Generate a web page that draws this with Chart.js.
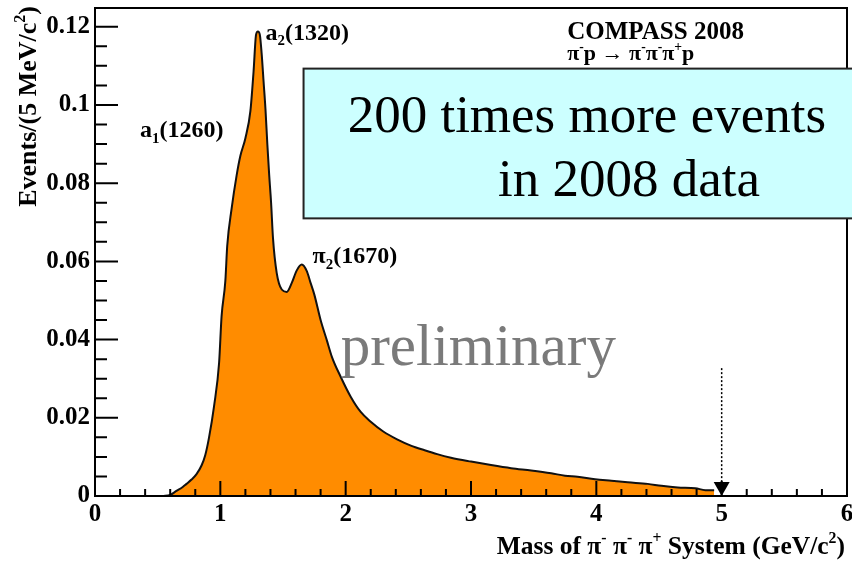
<!DOCTYPE html>
<html lang="en">
<head>
    <meta charset="UTF-8">
    <title>COMPASS 2008 - 3pi mass spectrum</title>
    <style>
        body {
            margin: 0;
            padding: 0;
            background: #fff;
        }
        #wrap {
            width: 852px;
            height: 563px;
        }
    </style>
    <script src="https://cdn.jsdelivr.net/npm/chart.js"></script>
</head>
<body>
    <div id="wrap">
        <canvas id="massChart" width="852" height="563"></canvas>
    </div>
    <script>
        // invariant mass of the 3pi system (GeV/c^2) and normalised events per 5 MeV bin
        var massGeV = [
            0.54, 0.60, 0.65, 0.70, 0.73, 0.77, 0.81, 0.85, 0.88, 0.91,
            0.95, 0.99, 1.01, 1.04, 1.055, 1.09, 1.13, 1.16, 1.20, 1.24,
            1.265, 1.285, 1.30, 1.315, 1.33, 1.345, 1.36, 1.375, 1.39, 1.405,
            1.42, 1.45, 1.49, 1.53, 1.57, 1.61, 1.65, 1.69, 1.72, 1.75,
            1.80, 1.85, 1.89, 1.96, 2.04, 2.12, 2.20, 2.30, 2.41, 2.52,
            2.63, 2.73, 2.84, 3.00, 3.16, 3.32, 3.48, 3.64, 3.75, 3.85,
            3.99, 4.12, 4.25, 4.41, 4.52, 4.65, 4.79, 4.87, 4.94
        ];
        var eventsPerBin = [
            0.0000, 0.0003, 0.0013, 0.0023, 0.0031, 0.0042, 0.0056, 0.0078, 0.0105, 0.0150,
            0.0230, 0.0340, 0.0460, 0.0550, 0.0640, 0.0735, 0.0820, 0.0870, 0.0915, 0.0985,
            0.1085, 0.1180, 0.1188, 0.1180, 0.1130, 0.1060, 0.0990, 0.0900, 0.0820, 0.0750,
            0.0660, 0.0570, 0.0528, 0.0522, 0.0545, 0.0577, 0.0592, 0.0575, 0.0545, 0.0515,
            0.0450, 0.0398, 0.0356, 0.0305, 0.0254, 0.0215, 0.0190, 0.0165, 0.0145, 0.0129,
            0.0117, 0.0107, 0.0098, 0.0088, 0.0079, 0.0071, 0.0065, 0.0058, 0.0052, 0.0049,
            0.0043, 0.0039, 0.0035, 0.0031, 0.0026, 0.0022, 0.0020, 0.0015, 0.0015
        ];

        var xTickValues = [0, 1, 2, 3, 4, 5, 6];
        var xTickLabels = ['0', '1', '2', '3', '4', '5', '6'];
        var yTickValues = [0, 0.02, 0.04, 0.06, 0.08, 0.1, 0.12];
        var yTickLabels = ['0', '0.02', '0.04', '0.06', '0.08', '0.1', '0.12'];

        var SERIF = '"Liberation Serif", "Times New Roman", serif';

        // text with sub/superscripts, y is the baseline
        function drawRich(ctx, parts, x, y, size, weight, align) {
            var total = 0;
            parts.forEach(function (p) {
                var s = (p.sub || p.sup) ? size * 0.62 : size;
                ctx.font = weight + ' ' + s + 'px ' + SERIF;
                p.w = ctx.measureText(p.t).width;
                total += p.w;
            });
            var cx = x;
            if (align === 'right') cx = x - total;
            if (align === 'center') cx = x - total / 2;
            ctx.textAlign = 'left';
            ctx.textBaseline = 'alphabetic';
            parts.forEach(function (p) {
                var s = (p.sub || p.sup) ? size * 0.62 : size;
                var dy = p.sub ? size * 0.22 : (p.sup ? -size * 0.42 : 0);
                ctx.font = weight + ' ' + s + 'px ' + SERIF;
                ctx.fillText(p.t, cx, y + dy);
                cx += p.w;
            });
        }

        var frameAndLabels = {
            id: 'frameAndLabels',
            afterDatasetsDraw: function (chart) {
                var ctx = chart.ctx;
                var area = chart.chartArea;
                var xs = chart.scales.x;
                var ys = chart.scales.y;
                var px = function (v) { return xs.getPixelForValue(v); };
                var py = function (v) { return ys.getPixelForValue(v); };

                ctx.save();
                ctx.strokeStyle = '#000';
                ctx.fillStyle = '#000';

                // frame
                ctx.lineWidth = 2;
                ctx.beginPath();
                ctx.moveTo(area.left, area.top);
                ctx.lineTo(area.right, area.top);
                ctx.lineTo(area.right, area.bottom);
                ctx.lineTo(area.left, area.bottom);
                ctx.lineTo(area.left, area.top);
                ctx.stroke();

                // inward ticks, ROOT style
                ctx.beginPath();
                for (var i = 0; i <= 30; i++) {
                    var xv = i * 0.2;
                    var len = (i % 5 === 0) ? 15 : 7;
                    ctx.moveTo(px(xv), area.bottom);
                    ctx.lineTo(px(xv), area.bottom - len);
                }
                for (var j = 0; j <= 24; j++) {
                    var yv = j * 0.005;
                    var ylen = (j % 4 === 0) ? 23 : 12;
                    ctx.moveTo(area.left, py(yv));
                    ctx.lineTo(area.left + ylen, py(yv));
                }
                ctx.stroke();

                // axis titles
                drawRich(ctx, [{t: 'Mass of π'}, {t: '-', sup: true}, {t: ' π'}, {t: '-', sup: true},
                    {t: ' π'}, {t: '+', sup: true}, {t: ' System (GeV/c'}, {t: '2', sup: true}, {t: ')'}],
                    845, 554, 25.5, 'bold', 'right');
                ctx.save();
                ctx.translate(36, 6);
                ctx.rotate(-Math.PI / 2);
                drawRich(ctx, [{t: 'Events/(5 MeV/c'}, {t: '2', sup: true}, {t: ')'}], 0, 0, 26, 'bold', 'right');
                ctx.restore();

                // resonance labels
                drawRich(ctx, [{t: 'a'}, {t: '2', sub: true}, {t: '(1320)'}], px(1.36), py(0.1167), 24, 'bold', 'left');
                drawRich(ctx, [{t: 'a'}, {t: '1', sub: true}, {t: '(1260)'}], px(0.36), py(0.0917), 24, 'bold', 'left');
                drawRich(ctx, [{t: 'π'}, {t: '2', sub: true}, {t: '(1670)'}], px(1.736), py(0.0595), 24, 'bold', 'left');

                // experiment and reaction
                drawRich(ctx, [{t: 'COMPASS 2008'}], px(3.768), py(0.117), 25, 'bold', 'left');
                drawRich(ctx, [{t: 'π'}, {t: '-', sup: true}, {t: 'p → π'}, {t: '-', sup: true}, {t: 'π'},
                    {t: '-', sup: true}, {t: 'π'}, {t: '+', sup: true}, {t: 'p'}],
                    px(3.768), py(0.1114), 22, 'bold', 'left');

                // preliminary stamp
                ctx.fillStyle = '#7a7a7a';
                drawRich(ctx, [{t: 'preliminary'}], px(1.96), py(0.0335), 59, 'normal', 'left');

                // upper mass cut marker at 5 GeV
                ctx.fillStyle = '#000';
                ctx.lineWidth = 1.5;
                ctx.setLineDash([2, 2]);
                ctx.beginPath();
                ctx.moveTo(px(5), py(0.0327));
                ctx.lineTo(px(5), area.bottom - 12);
                ctx.stroke();
                ctx.setLineDash([]);
                ctx.beginPath();
                ctx.moveTo(px(5) - 8, area.bottom - 14);
                ctx.lineTo(px(5) + 8, area.bottom - 14);
                ctx.lineTo(px(5), area.bottom);
                ctx.closePath();
                ctx.fill();

                // highlight box
                var bx = px(1.664);
                var by = py(0.1093);
                var bh = py(0.0710) - by;
                ctx.fillStyle = '#ccffff';
                ctx.fillRect(bx, by, chart.width - bx + 4, bh);
                ctx.strokeStyle = '#222';
                ctx.lineWidth = 2;
                ctx.strokeRect(bx, by, chart.width - bx + 4, bh);
                ctx.fillStyle = '#000';
                drawRich(ctx, [{t: '200 times more events'}], px(2.016), py(0.093), 53, 'normal', 'left');
                drawRich(ctx, [{t: 'in 2008 data'}], px(3.216), py(0.0766), 53, 'normal', 'left');

                ctx.restore();
            }
        };

        var tickFont = { family: 'Liberation Serif', size: 25, weight: 'bold' };

        var ctx = document.getElementById('massChart').getContext('2d');
        new Chart(ctx, {
            type: 'line',
            data: {
                datasets: [{
                    data: massGeV.map(function (m, i) { return { x: m, y: eventsPerBin[i] }; }),
                    borderColor: '#111',
                    borderWidth: 2,
                    backgroundColor: '#ff8c00',
                    fill: 'origin',
                    pointRadius: 0,
                    cubicInterpolationMode: 'monotone'
                }]
            },
            options: {
                responsive: false,
                animation: false,
                devicePixelRatio: 1,
                layout: { padding: { top: 8, right: 5, left: 0, bottom: 0 } },
                plugins: {
                    legend: { display: false },
                    tooltip: { enabled: false }
                },
                scales: {
                    x: {
                        type: 'linear',
                        min: 0,
                        max: 6,
                        grid: { display: false, drawTicks: false },
                        border: { display: true, color: '#000', width: 2 },
                        ticks: {
                            color: '#000',
                            font: tickFont,
                            padding: 4,
                            maxRotation: 0,
                            callback: function (value, index) { return xTickLabels[index]; }
                        },
                        afterBuildTicks: function (scale) {
                            scale.ticks = xTickValues.map(function (v) { return { value: v }; });
                        },
                        afterFit: function (scale) {
                            scale.height = 67;
                            scale.paddingLeft = 0;
                            scale.paddingRight = 0;
                        }
                    },
                    y: {
                        min: 0,
                        max: 0.1248,
                        grid: { display: false, drawTicks: false },
                        border: { display: true, color: '#000', width: 2 },
                        ticks: {
                            color: '#000',
                            font: tickFont,
                            padding: 5,
                            callback: function (value, index) { return yTickLabels[index]; }
                        },
                        afterBuildTicks: function (scale) {
                            scale.ticks = yTickValues.map(function (v) { return { value: v }; });
                        },
                        afterFit: function (scale) {
                            scale.width = 95;
                            scale.paddingTop = 0;
                            scale.paddingBottom = 0;
                        }
                    }
                }
            },
            plugins: [frameAndLabels]
        });
    </script>
</body>
</html>
